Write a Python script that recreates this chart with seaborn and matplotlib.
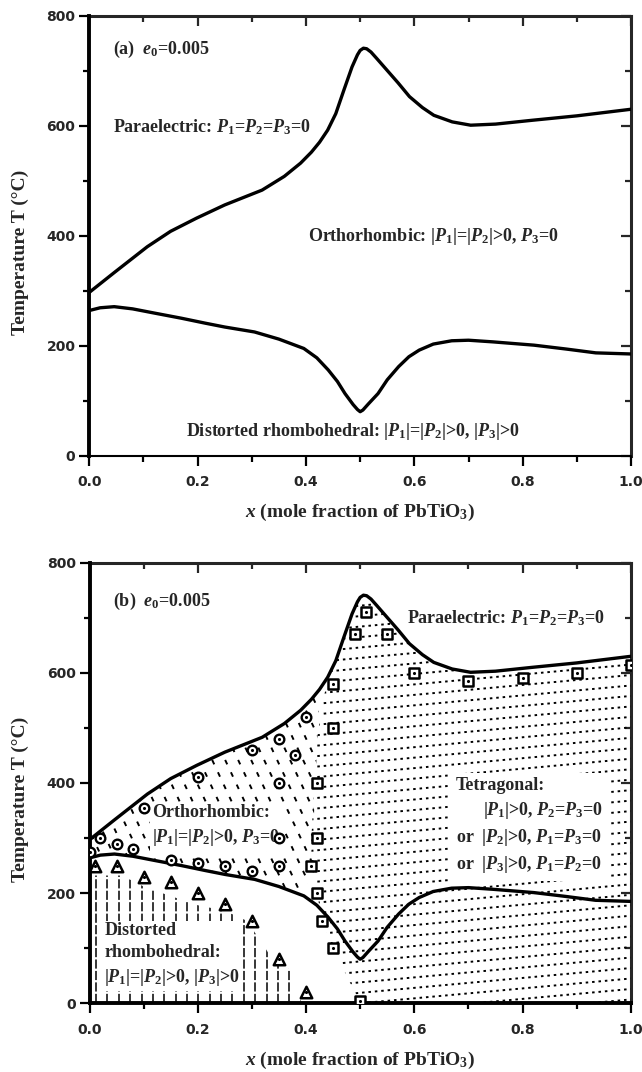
import numpy as np
import matplotlib
matplotlib.use("Agg")
import matplotlib.pyplot as plt
from matplotlib.ticker import MultipleLocator
from matplotlib.patches import Polygon
import seaborn as sns

# ---------------- data ----------------
# paraelectric -> ferroelectric transition curve
upper_x = [0.0, 0.046, 0.107, 0.15, 0.198, 0.25, 0.319, 0.36, 0.39, 0.41, 0.425, 0.44, 0.455,
           0.47, 0.485, 0.495, 0.50, 0.506, 0.512, 0.52, 0.53, 0.546, 0.57, 0.591, 0.615, 0.636,
           0.67, 0.704, 0.75, 0.818, 0.90, 1.0]
upper_T = [297, 333, 380, 408, 432, 456, 483, 508, 532, 552, 570, 592, 622,
           665, 707, 729, 737, 741, 740, 734, 723, 705, 678, 653, 633, 619,
           607, 601, 603, 610, 618, 630]
# orthorhombic -> distorted rhombohedral curve
lower_x = [0.0, 0.02, 0.046, 0.08, 0.122, 0.17, 0.214, 0.25, 0.305, 0.35, 0.396, 0.42,
           0.441, 0.458, 0.472, 0.487, 0.495, 0.50, 0.505, 0.515, 0.533, 0.55, 0.571, 0.59,
           0.609, 0.635, 0.669, 0.70, 0.745, 0.821, 0.88, 0.935, 1.0]
lower_T = [264, 269, 271, 267, 259, 250, 241, 234, 225, 212, 195, 178,
           156, 135, 113, 93, 84, 80, 83, 94, 113, 138, 162, 180,
           192, 203, 209, 210, 207, 201, 194, 187, 185]

# simulation points (panel b)
circ_x = [0.0, 0.02, 0.05, 0.08, 0.10, 0.15, 0.20, 0.20, 0.25, 0.30, 0.30, 0.35, 0.35, 0.35, 0.35, 0.38, 0.40]
circ_T = [275, 300, 290, 280, 355, 260, 255, 410, 250, 240, 460, 250, 300, 400, 480, 450, 520]
tri_x = [0.01, 0.05, 0.10, 0.15, 0.20, 0.25, 0.30, 0.35, 0.40]
tri_T = [250, 250, 230, 220, 200, 180, 150, 80, 20]
sq_x = [0.51, 0.49, 0.55, 0.60, 0.45, 0.70, 0.80, 0.90, 1.0, 0.45, 0.42, 0.42, 0.41, 0.42, 0.43, 0.45, 0.50]
sq_T = [710, 670, 670, 600, 580, 585, 590, 600, 615, 500, 400, 300, 250, 200, 150, 100, 5]

# phase-region borders read from the hatching (panel b)
tet_bound_x = [0.44, 0.43, 0.42, 0.415, 0.41, 0.41, 0.42, 0.43, 0.45, 0.50]
tet_bound_T = [592, 540, 480, 400, 300, 250, 200, 150, 100, 0]
rh_bound_x = [0.0, 0.06, 0.10, 0.14, 0.20, 0.25, 0.29, 0.31, 0.33, 0.35, 0.37, 0.39]
rh_bound_T = [232, 232, 212, 198, 178, 168, 150, 122, 92, 78, 60, 5]

# ticks
x_major = [0.0, 0.2, 0.4, 0.6, 0.8, 1.0]
x_labels = ["0.0", "0.2", "0.4", "0.6", "0.8", "1.0"]
y_major = [0, 200, 400, 600, 800]
y_labels = ["0", "200", "400", "600", "800"]

# ---------------- style ----------------
sns.set_style("ticks")
plt.rcParams["font.family"] = ["Liberation Serif", "DejaVu Serif"]
plt.rcParams["font.weight"] = "bold"
plt.rcParams["mathtext.fontset"] = "custom"
plt.rcParams["mathtext.rm"] = "Liberation Serif:bold"
plt.rcParams["mathtext.bf"] = "Liberation Serif:bold"
plt.rcParams["mathtext.it"] = "Liberation Serif:italic:bold"
plt.rcParams["mathtext.default"] = "it"

TXT = 13
LAB = 14

fig = plt.figure(figsize=(6.42, 10.72), dpi=100)
ax_a = fig.add_axes([0.1391, 0.5749, 0.8438, 0.4104])
ax_b = fig.add_axes([0.1395, 0.0641, 0.8430, 0.4110])


def style_axes(ax, thin_bottom):
    ax.set_xlim(0, 1)
    ax.set_ylim(0, 800)
    ax.set_xticks(x_major)
    ax.set_xticklabels(x_labels, fontfamily="DejaVu Sans", fontweight="bold", fontsize=10)
    ax.set_yticks(y_major)
    ax.set_yticklabels(y_labels, fontfamily="DejaVu Sans", fontweight="bold", fontsize=10)
    ax.xaxis.set_minor_locator(MultipleLocator(0.1))
    ax.yaxis.set_minor_locator(MultipleLocator(100))
    ax.tick_params(which="both", direction="out", top=False, right=False, width=1.6, color="k")
    ax.tick_params(which="major", length=7)
    ax.tick_params(which="minor", length=4)
    ax.tick_params(axis="x", which="major", pad=7)
    ax.tick_params(axis="y", which="major", pad=3)
    # inward ticks on top and right
    top = ax.secondary_xaxis("top")
    top.xaxis.set_major_locator(MultipleLocator(0.2))
    top.xaxis.set_minor_locator(MultipleLocator(0.1))
    top.tick_params(which="both", direction="in", labeltop=False, width=1.6)
    top.tick_params(which="major", length=7)
    top.tick_params(which="minor", length=4)
    right = ax.secondary_yaxis("right")
    right.yaxis.set_major_locator(MultipleLocator(200))
    right.yaxis.set_minor_locator(MultipleLocator(100))
    right.tick_params(which="both", direction="in", labelright=False, width=1.6)
    right.tick_params(which="major", length=7)
    right.tick_params(which="minor", length=4)
    for sp in ax.spines.values():
        sp.set_color("k")
    ax.spines["left"].set_linewidth(2.8)
    ax.spines["top"].set_visible(False)
    ax.spines["right"].set_visible(False)
    top.spines["top"].set_linewidth(2.2)
    right.spines["right"].set_linewidth(2.2)
    if thin_bottom:
        ax.spines["bottom"].set_linewidth(1.5)
        ax.spines["bottom"].set_linestyle((0, (2, 1)))
    else:
        ax.spines["bottom"].set_linewidth(2.8)
    ax.set_ylabel("Temperature T (°C)", fontsize=LAB, fontweight="bold")
    ax.yaxis.set_label_coords(-0.128, 0.462)
    ax.set_xlabel(r"$x$ (mole fraction of PbTiO$_3$)", fontsize=LAB, fontweight="bold")
    ax.xaxis.set_label_coords(0.5, -0.13)
    ax.xaxis.label.set_va("center")
    ax.yaxis.label.set_va("center")


def curves(ax):
    sns.lineplot(x=upper_x, y=upper_T, ax=ax, color="k", linewidth=2.4, sort=False,
                 estimator=None, zorder=4)
    sns.lineplot(x=lower_x, y=lower_T, ax=ax, color="k", linewidth=2.4, sort=False,
                 estimator=None, zorder=4)


def clipped_lines(ax, poly_x, poly_y, segs, **kw):
    patch = Polygon(np.column_stack([poly_x, poly_y]), closed=True,
                    facecolor="none", edgecolor="none")
    ax.add_patch(patch)
    for xs, ys in segs:
        ln, = ax.plot(xs, ys, **kw)
        ln.set_clip_path(patch)


# ---------------- panel (a) ----------------
curves(ax_a)
style_axes(ax_a, thin_bottom=True)
ax_a.text(0.043, 738, r"(a)  $e_0$=0.005", fontsize=TXT, fontweight="bold", va="center")
ax_a.text(0.043, 598, r"Paraelectric: $P_1$=$P_2$=$P_3$=0", fontsize=TXT,
          fontweight="bold", va="center")
ax_a.text(0.403, 398, r"Orthorhombic: |$P_1$|=|$P_2$|>0, $P_3$=0", fontsize=TXT,
          fontweight="bold", va="center")
ax_a.text(0.179, 44, r"Distorted rhombohedral: |$P_1$|=|$P_2$|>0, |$P_3$|>0", fontsize=TXT,
          fontweight="bold", va="center")

# ---------------- panel (b) ----------------
curves(ax_b)

# tetragonal region: dotted, slightly rising lines
up_sel = [(x, t) for x, t in zip(upper_x, upper_T) if x >= 0.44]
tet_px = [p[0] for p in up_sel] + [1.0, 0.5] + tet_bound_x[::-1][1:]
tet_py = [p[1] for p in up_sel] + [0, 0] + tet_bound_T[::-1][1:]
tet_segs = [([0.35, 1.0], [c + 90 * 0.35, c + 90]) for c in np.arange(-140, 760, 19)]
clipped_lines(ax_b, tet_px, tet_py, tet_segs, color="k", linewidth=1.4,
              linestyle=(0, (1.3, 2.0)), zorder=1)

# orthorhombic region: steep short dashes
up_o = [(x, t) for x, t in zip(upper_x, upper_T) if x <= 0.425]
lo_o = [(x, t) for x, t in zip(lower_x, lower_T) if x <= 0.40]
ort_px = [p[0] for p in up_o] + [0.41] + [p[0] for p in lo_o[::-1]]
ort_py = [p[1] for p in up_o] + [240] + [p[1] for p in lo_o[::-1]]
ort_segs = [([x0, x0 + 800 / 2100.0], [800, 0]) for x0 in np.arange(-0.4, 0.5, 0.024)]
clipped_lines(ax_b, ort_px, ort_py, ort_segs, color="k", linewidth=1.4,
              linestyle=(0, (2.5, 4.5)), zorder=1)

# distorted rhombohedral region: vertical dashed lines
rh_px = rh_bound_x + [0.39, 0.0]
rh_py = rh_bound_T + [0, 0]
rh_segs = [([x0, x0], [0, 800]) for x0 in np.arange(0.012, 0.40, 0.021)]
clipped_lines(ax_b, rh_px, rh_py, rh_segs, color="k", linewidth=1.1,
              linestyle=(0, (6, 1.5)), zorder=1)

# simulation markers
sns.scatterplot(x=circ_x, y=circ_T, ax=ax_b, marker="o", s=48, color="white",
                edgecolor="k", linewidth=1.7, zorder=6)
sns.scatterplot(x=tri_x, y=tri_T, ax=ax_b, marker="^", s=68, color="white",
                edgecolor="k", linewidth=1.8, zorder=6)
sns.scatterplot(x=sq_x, y=sq_T, ax=ax_b, marker="s", s=52, color="white",
                edgecolor="k", linewidth=1.8, zorder=6)
for xs, ys in [(circ_x, circ_T), (tri_x, tri_T), (sq_x, sq_T)]:
    sns.scatterplot(x=xs, y=ys, ax=ax_b, marker="o", s=5, color="k", linewidth=0, zorder=7)

style_axes(ax_b, thin_bottom=False)
box = dict(facecolor="white", edgecolor="none", pad=2)
ax_b.text(0.043, 729, r"(b)  $e_0$=0.005", fontsize=TXT, fontweight="bold", va="center", zorder=8)
ax_b.text(0.586, 699, r"Paraelectric: $P_1$=$P_2$=$P_3$=0", fontsize=TXT,
          fontweight="bold", va="center", bbox=box, zorder=8)
ax_b.text(0.116, 322, "Orthorhombic:\n" + r"|$P_1$|=|$P_2$|>0, $P_3$=0", fontsize=TXT,
          fontweight="bold", va="center", ha="left", linespacing=1.4, bbox=box, zorder=5)
ax_b.text(0.677, 322,
          "Tetragonal:\n" + r"      |$P_1$|>0, $P_2$=$P_3$=0" + "\n"
          + r"or  |$P_2$|>0, $P_1$=$P_3$=0" + "\n" + r"or  |$P_3$|>0, $P_1$=$P_2$=0",
          fontsize=TXT, fontweight="bold", va="center", ha="left", linespacing=1.4,
          bbox=dict(facecolor="white", edgecolor="none", pad=4), zorder=5)
ax_b.text(0.027, 88, "Distorted\nrhombohedral:\n" + r"|$P_1$|=|$P_2$|>0, |$P_3$|>0",
          fontsize=TXT, fontweight="bold", va="center", ha="left", linespacing=1.4,
          bbox=box, zorder=5)

fig.savefig("out.png", dpi=100)
